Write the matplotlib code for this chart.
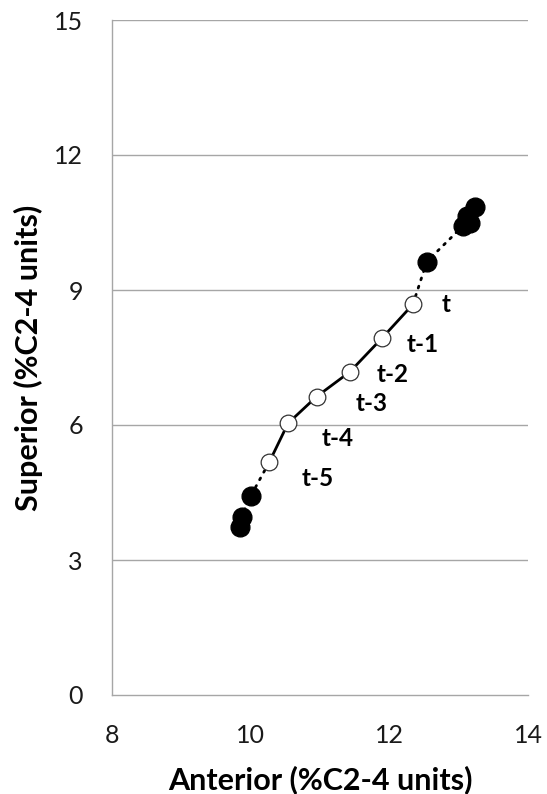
import matplotlib
matplotlib.use("Agg")
import matplotlib.pyplot as plt

plt.rcParams['font.family'] = ['Lato', 'DejaVu Sans']

# open circles: the six time points leading up to t
open_x = [10.27, 10.54, 10.95, 11.43, 11.90, 12.34]
open_y = [5.18, 6.04, 6.63, 7.18, 7.94, 8.68]
open_labels = ['t-5', 't-4', 't-3', 't-2', 't-1', 't']

# filled circles before and after the open sequence
before_x = [9.85, 9.87, 10.00]
before_y = [3.73, 3.96, 4.42]
after_x = [12.54, 13.06, 13.16, 13.12, 13.24]
after_y = [9.63, 10.42, 10.48, 10.64, 10.84]

x_ticks = [8, 10, 12, 14]
y_ticks = [0, 3, 6, 9, 12, 15]

fig = plt.figure(figsize=(5.47, 7.94), dpi=100)
ax = fig.add_axes([112 / 547, 99 / 794, 416 / 547, 675 / 794])

grid_col = '#a6a6a6'
for yv in y_ticks[1:]:
    ax.axhline(yv, color=grid_col, lw=1.0, zorder=0)

dot_style = dict(color='black', lw=2.0, linestyle=(0, (0.7, 2.4)),
                 dash_capstyle='round', zorder=1)
ax.plot(before_x + [open_x[0]], before_y + [open_y[0]], **dot_style)
ax.plot([open_x[-1]] + after_x, [open_y[-1]] + after_y, **dot_style)
ax.plot(open_x, open_y, color='black', lw=2.0, zorder=2)

ax.plot(before_x, before_y, 'o', ms=13.5, mfc='black', mec='black', zorder=3)
ax.plot(after_x, after_y, 'o', ms=13.5, mfc='black', mec='black', zorder=3)
ax.plot(open_x, open_y, 'o', ms=12, mfc='white', mec='#333333', mew=0.9, zorder=4)

# label offsets in points from each open circle
offsets = [(35, -12), (36, -11), (40, -5), (31, -2), (29, -5), (24, 0)]
for lx, ly, lab, off in zip(open_x, open_y, open_labels, offsets):
    ax.annotate(lab, (lx, ly), xytext=off, textcoords='offset points',
                ha='center', va='center', fontsize=17.5, fontweight='bold')

ax.set_xlim(8, 14)
ax.set_ylim(0, 15)
ax.set_xticks(x_ticks)
ax.set_yticks(y_ticks)
ax.tick_params(length=0, labelsize=18, pad=21, labelcolor='#1a1a1a')
ax.tick_params(axis='x', pad=21)

for side in ['top', 'right']:
    ax.spines[side].set_visible(False)
for side in ['left', 'bottom']:
    ax.spines[side].set_color(grid_col)
    ax.spines[side].set_linewidth(1.0)

ax.set_xlabel('Anterior (%C2-4 units)', fontsize=22, fontweight='bold', labelpad=13)
ax.set_ylabel('Superior (%C2-4 units)', fontsize=22, fontweight='bold', labelpad=8)

fig.savefig('out.png', dpi=100)
